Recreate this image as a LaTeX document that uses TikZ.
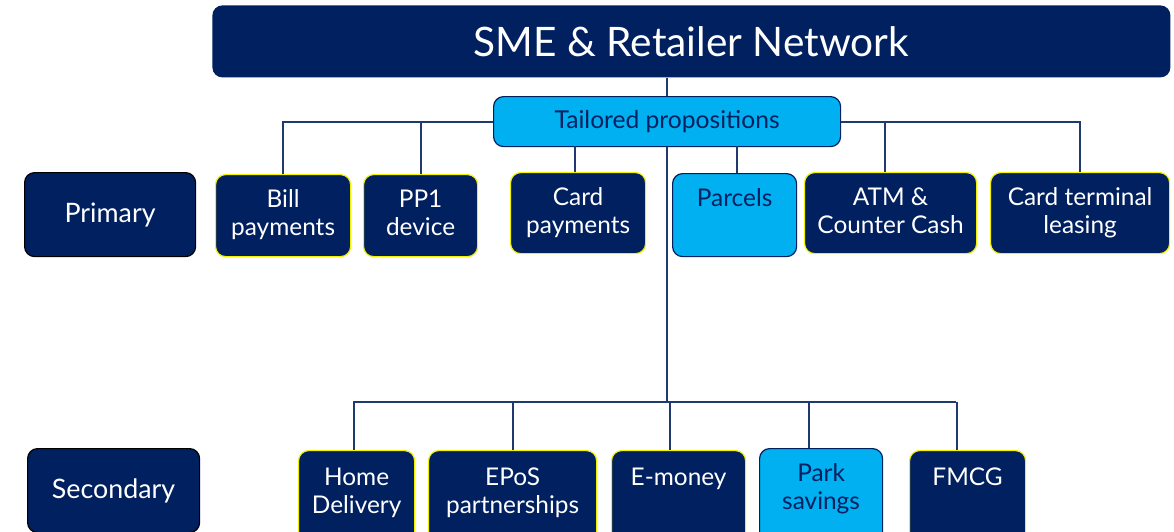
\documentclass[tikz,border=0pt]{standalone}
\usepackage{fontspec}
\setmainfont{Lato}
\usetikzlibrary{positioning}

\definecolor{navy}{HTML}{002060}
\definecolor{sky}{HTML}{00B0F0}
\definecolor{rim}{HTML}{F2F200}
\definecolor{wire}{HTML}{1F3A6E}

\tikzset{
  box/.style={rounded corners=5pt, inner xsep=2pt, align=center, font=\fontsize{12.2}{14}\selectfont},
  dark/.style={box, fill=navy, draw=rim, line width=0.6pt, text=white},
  light/.style={box, fill=sky, draw=navy, line width=0.6pt, text=navy},
  rowhead/.style={box, fill=navy, draw=black, line width=0.6pt, text=white, font=\fontsize{13.4}{15}\selectfont},
  % width, height (px), first baseline below top
  sz/.style n args={3}{minimum width=#1*0.5pt, inner ysep=0pt, text height=#3, text depth=#2*0.5pt-#3},
  one/.style 2 args={sz={#1}{#2}{16.5pt}},
  two/.style 2 args={sz={#1}{#2}{30.5pt}},
  wired/.style={draw=wire, line width=0.9pt}
}

\begin{document}
\begin{tikzpicture}[x=0.5pt, y=-0.5pt]
  \useasboundingbox (0,0) rectangle (1174,531);

  % Header and propositions
  \node (title) [box, fill=navy, text=white, minimum width=479pt, minimum height=36pt, anchor=north west,
    font=\fontsize{20.3}{22}\selectfont] at (212,5) {SME \& Retailer Network};
  \node (tailored) [light, minimum width=173.5pt, minimum height=25pt, anchor=north west,
    font=\fontsize{12.3}{14}\selectfont] at (493,96) {Tailored propositions};

  % Row labels
  \node (primary) [rowhead, minimum width=85.5pt, minimum height=42pt, anchor=north west] at (24,172) {Primary};
  \node (secondary) [rowhead, minimum width=86pt, minimum height=42pt, anchor=north west] at (27,448) {Secondary};

  % Primary products
  \node (bill) [dark, two={135}{82}, anchor=north west] at (215,174) {Bill\\payments};
  \node (pp1) [dark, two={114}{82}, anchor=north west] at (363,174) {PP1\\device};
  \node (card) [dark, two={135}{81}, anchor=north west] at (510,172) {Card\\payments};
  \node (parcels) [light, one={124}{83}, anchor=north west] at (672,173) {Parcels};
  \node (atm) [dark, two={172}{81}, anchor=north west] at (804,172) {ATM \&\\Counter Cash};
  \node (term) [dark, two={179}{81}, anchor=north west] at (990,172) {Card terminal\\leasing};

  % Secondary products
  \node (home) [dark, sz={116}{95}{31.5pt}, anchor=north west] at (298,450) {Home\\Delivery};
  \node (epos) [dark, sz={168}{95}{31.5pt}, anchor=north west] at (428,450) {EPoS\\partnerships};
  \node (emoney) [dark, sz={134}{95}{17.3pt}, anchor=north west] at (611,450) {E-money};
  \node (park) [light, sz={123}{95}{30.5pt}, anchor=north west] at (759,448) {Park\\savings};
  \node (fmcg) [dark, sz={116}{95}{17.5pt}, anchor=north west] at (909,450) {FMCG};

  \coordinate (sbusw) at (353,402);
  \coordinate (sbuse) at (956,402);

  % Header to propositions
  \draw[wired] (tailored.north |- title.south) -- (tailored.north);

  % Primary links
  \draw[wired] (tailored.west) -| (bill.north);
  \draw[wired] (pp1.north) -- (pp1.north |- tailored.west);
  \draw[wired] (card.north) ++(-3,0) -- ++(0,-26);
  \draw[wired] (parcels.north) ++(2,0) -- ++(0,-27);
  \draw[wired] (atm.north) ++(-6,0) -- ++(0,-51);
  \draw[wired] (tailored.east) -| (term.north);

  % Secondary links
  \draw[wired] (tailored.south) -- (tailored.south |- sbusw);
  \draw[wired] (sbusw) -- (sbuse);
  \foreach \n/\dx/\dy in {home/-3/-48, epos/0/-48, emoney/-9/-48, park/-12/-46, fmcg/-11/-48}
    \draw[wired] (\n.north) ++(\dx,0) -- ++(0,\dy);
\end{tikzpicture}
\end{document}
